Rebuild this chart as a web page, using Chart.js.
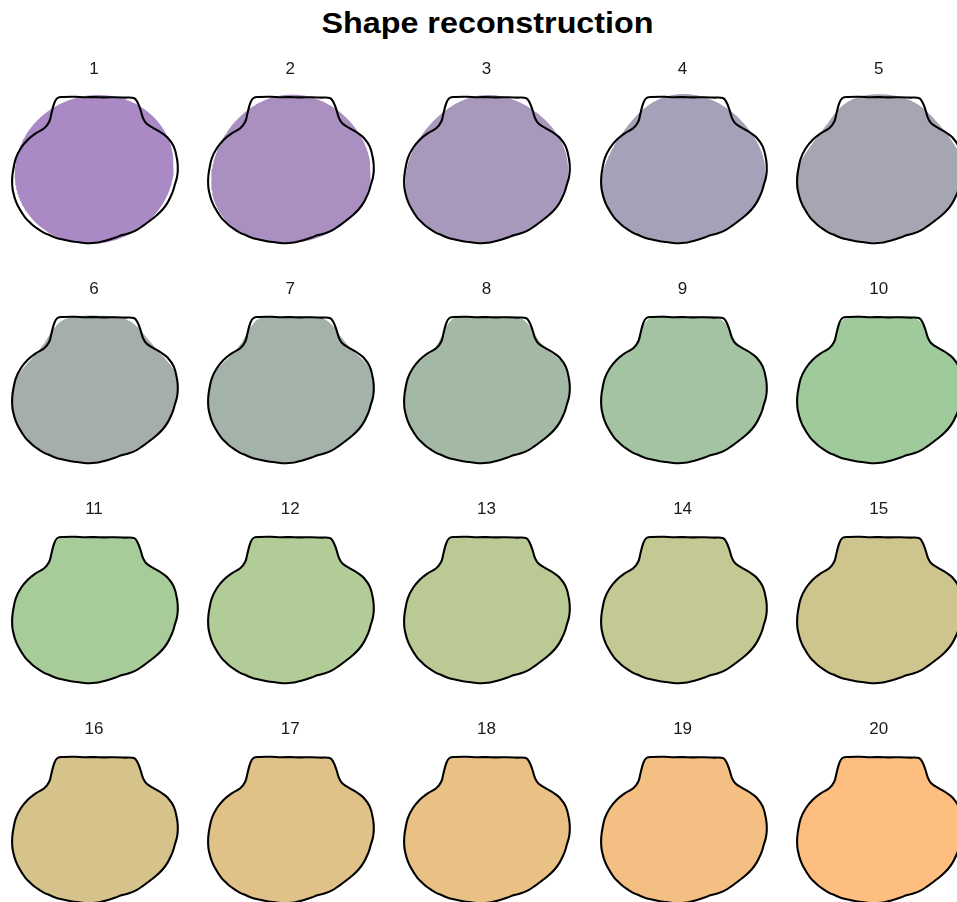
<!DOCTYPE html>
<html>
<head>
<meta charset="utf-8">
<script src="https://cdn.jsdelivr.net/npm/chart.js@4.4.1/dist/chart.umd.min.js"></script>
<style>
  html, body { margin: 0; padding: 0; background: #ffffff; }
  body { width: 957px; height: 902px; overflow: hidden; position: relative;
         font-family: "Liberation Sans", Arial, Helvetica, sans-serif; }
  #title { position: absolute; left: 9px; width: 957px; top: 5px; text-align: center;
           font-weight: bold; font-size: 29px; color: #000; line-height: 36px;
           transform: scaleX(1.114); transform-origin: 478.5px 0; }
  .panel { position: absolute; }
  .lab { position: absolute; font-size: 17px; color: #1a1a1a; transform: translate(-50%, -50%);
         white-space: nowrap; }
</style>
</head>
<body>
<div id="title">Shape reconstruction</div>
<script>
// Shell outline, traced clockwise from the middle of the hinge (y up, pixel-like units)
const outlineX = [0, 10, 20, 30, 38.8, 42.2, 45.5, 48, 51.5, 58.8, 66, 72.5, 78.8, 82.2, 82.8, 81.8, 79.8, 78, 75.8, 72.6,
  68, 62, 55, 48, 41, 34, 27.2, 20.5, 13.8, 7, 0.5, -5, -10.8, -17.5, -24.2, -31, -37.8, -44.5, -51.3, -56.8,
  -61.5, -66, -69.8, -73.2, -76.2, -78.6, -80.4, -81.7, -82.6, -82.9, -82.5, -81.5, -79.2, -74.2, -67.5, -59.2, -50.8, -45.8, -43.5, -40.8,
  -37.5, -31.5, -20, -10];
const outlineY = [73, 72.6, 72.8, 72.4, 71.9, 68.3, 60, 52, 46.5, 41.7, 37.5, 32.5, 23.3, 10, 0, -8, -14.7, -21, -26.3, -32.6,
  -39, -45, -50.6, -55.8, -60.4, -63.3, -65, -67.5, -69.7, -71.5, -72.8, -73.2, -73, -72, -71.3, -69.8, -68.2, -65.5, -62.6, -59.2,
  -55.8, -51.6, -47.6, -42.6, -37.6, -32.6, -27.6, -22.6, -17.6, -11, -4.7, 1.7, 11.7, 21.7, 30, 36.7, 41.7, 48.3, 56.7, 66.7,
  72, 73, 73.2, 72.7];

// Number of harmonics used for each panel
const harmonics = [1, 2, 3, 4, 5, 6, 7, 8, 9, 10, 11, 12, 13, 14, 15, 16, 17, 18, 19, 20];

// Fill colour for each reconstruction
const fillColors = [
  '#A98AC4', '#A990C0', '#A898BC', '#A6A0B8', '#A5A6B2',
  '#A5ADAD', '#A4B3A9', '#A3B9A5', '#A4C3A3', '#9FCA9C',
  '#A8CB9A', '#B2CC97', '#BBCA95', '#C4C892', '#CEC48E',
  '#D6C38C', '#E0C288', '#EAC185', '#F4BF82', '#FDBE80'
];

// Elliptic Fourier coefficients of the closed polygon (Kuhl & Giardina)
function ellipticFourier(xs, ys, nh) {
  const K = xs.length;
  const dx = [], dy = [], dt = [], t = [0];
  for (let p = 0; p < K; p++) {
    const q = (p + 1) % K;
    const ddx = xs[q] - xs[p], ddy = ys[q] - ys[p];
    dx.push(ddx); dy.push(ddy);
    const d = Math.hypot(ddx, ddy);
    dt.push(d);
    t.push(t[p] + d);
  }
  const T = t[K];
  let A0 = 0, C0 = 0;
  for (let p = 0; p < K; p++) {
    const q = (p + 1) % K;
    A0 += (xs[p] + xs[q]) / 2 * dt[p];
    C0 += (ys[p] + ys[q]) / 2 * dt[p];
  }
  A0 /= T; C0 /= T;
  const coefs = [];
  for (let n = 1; n <= nh; n++) {
    const k = T / (2 * n * n * Math.PI * Math.PI);
    let a = 0, b = 0, c = 0, d = 0;
    for (let p = 0; p < K; p++) {
      if (dt[p] === 0) continue;
      const w1 = 2 * n * Math.PI * t[p + 1] / T, w0 = 2 * n * Math.PI * t[p] / T;
      const dc = Math.cos(w1) - Math.cos(w0), ds = Math.sin(w1) - Math.sin(w0);
      a += dx[p] / dt[p] * dc; b += dx[p] / dt[p] * ds;
      c += dy[p] / dt[p] * dc; d += dy[p] / dt[p] * ds;
    }
    coefs.push({ a: a * k, b: b * k, c: c * k, d: d * k });
  }
  return { A0, C0, T, coefs };
}

// Closed curve rebuilt from the first nh harmonics
function reconstruct(ef, nh, samples) {
  const pts = [];
  for (let i = 0; i <= samples; i++) {
    const s = i / samples;
    let x = ef.A0, y = ef.C0;
    for (let n = 1; n <= nh; n++) {
      const w = 2 * n * Math.PI * s, co = ef.coefs[n - 1];
      x += co.a * Math.cos(w) + co.b * Math.sin(w);
      y += co.c * Math.cos(w) + co.d * Math.sin(w);
    }
    pts.push({ x, y });
  }
  return pts;
}

const ef = ellipticFourier(outlineX, outlineY, 20);
const outlinePts = outlineX.map((x, i) => ({ x, y: outlineY[i] }));
outlinePts.push({ x: outlineX[0], y: outlineY[0] });

const W = 196, H = 220;
harmonics.forEach((nh, i) => {
  const col = i % 5, row = Math.floor(i / 5);
  const cx = 95 + col * 196.2, cy = 170 + row * 220;

  const wrap = document.createElement('div');
  wrap.className = 'panel';
  wrap.style.left = (cx - W / 2) + 'px';
  wrap.style.top = (cy - H / 2) + 'px';
  wrap.style.width = W + 'px';
  wrap.style.height = H + 'px';
  const cv = document.createElement('canvas');
  cv.width = W; cv.height = H;
  wrap.appendChild(cv);
  document.body.appendChild(wrap);

  const lab = document.createElement('div');
  lab.className = 'lab';
  lab.style.left = (cx - 1) + 'px';
  lab.style.top = (cy - 101.5) + 'px';
  lab.textContent = String(nh);
  document.body.appendChild(lab);

  new Chart(cv, {
    type: 'scatter',
    data: {
      datasets: [
        {
          label: 'outline',
          data: outlinePts,
          showLine: true,
          borderColor: '#000000',
          borderWidth: 2.1,
          tension: 0.4,
          pointRadius: 0,
          fill: false
        },
        {
          label: 'harmonics ' + nh,
          data: reconstruct(ef, nh, 300),
          showLine: true,
          borderWidth: 0,
          borderColor: fillColors[i],
          backgroundColor: fillColors[i],
          pointRadius: 0,
          fill: 'shape'
        }
      ]
    },
    options: {
      responsive: false,
      animation: false,
      devicePixelRatio: 1,
      layout: { padding: 0 },
      plugins: { legend: { display: false }, tooltip: { enabled: false }, title: { display: false } },
      scales: {
        x: { type: 'linear', min: -W / 2, max: W / 2, display: false },
        y: { type: 'linear', min: -H / 2, max: H / 2, display: false }
      }
    }
  });
});
</script>
</body>
</html>
